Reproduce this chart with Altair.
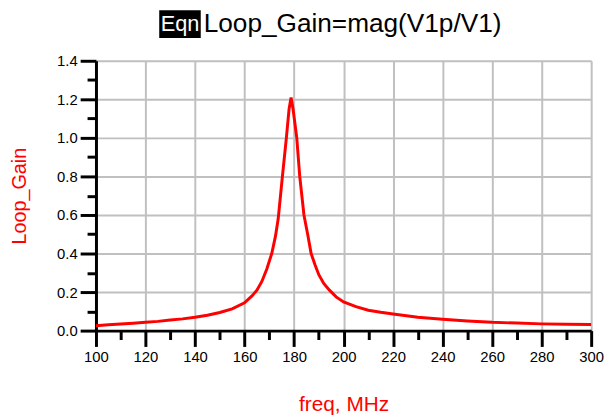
import altair as alt
import pandas as pd

# frequency (MHz) and Loop_Gain
freq = [100, 105, 110, 115, 120, 125, 130, 135, 140, 145, 150, 155, 160, 163, 165,
        167, 169, 171, 172.5, 173.6, 175.3, 176.9, 178.0, 178.8, 179.6, 181.1, 182.3,
        184.0, 185.5, 186.9, 188.5, 190, 192, 194.3, 197, 200, 205, 210, 215, 220,
        230, 240, 250, 260, 270, 280, 290, 300]
gain = [0.025, 0.030, 0.034, 0.038, 0.043, 0.048, 0.055, 0.061, 0.069, 0.080, 0.094,
        0.113, 0.144, 0.180, 0.210, 0.255, 0.320, 0.400, 0.490, 0.580, 0.800, 1.000,
        1.150, 1.210, 1.150, 1.000, 0.800, 0.600, 0.500, 0.400, 0.340, 0.290, 0.245,
        0.210, 0.175, 0.149, 0.124, 0.106, 0.095, 0.086, 0.069, 0.059, 0.050, 0.043,
        0.039, 0.035, 0.033, 0.032]

x_ticks = list(range(100, 301, 10))
y_ticks = [round(i * 0.1, 1) for i in range(0, 15)]

df = pd.DataFrame({"freq": freq, "gain": gain})
FONT = "Liberation Sans"

x_axis = alt.Axis(
    values=x_ticks,
    labelExpr="datum.value % 20 == 0 ? datum.label : ''",
    tickSize={"condition": {"test": "datum.value % 20 == 0", "value": 16}, "value": 9},
    tickWidth=3, tickColor="black",
    domainColor="black", domainWidth=3,
    grid=True, gridColor="#c0c0c0", gridWidth=2,
    gridOpacity={"condition": {"test": "datum.value % 20 == 0", "value": 1}, "value": 0},
    labelFont=FONT, labelFontSize=15, labelColor="black", labelPadding=3,
    title="freq, MHz", titleFont=FONT, titleFontSize=21, titleFontWeight="normal",
    titleColor="red", titlePadding=30, labelFlush=False, labelOverlap=False,
)
y_axis = alt.Axis(
    values=y_ticks,
    format=".1f",
    labelExpr="round(datum.value*10) % 2 == 0 ? datum.label : ''",
    tickSize={"condition": {"test": "round(datum.value*10) % 2 == 0", "value": 16}, "value": 9},
    tickWidth=3, tickColor="black",
    domainColor="black", domainWidth=3,
    grid=True, gridColor="#c0c0c0", gridWidth=2,
    gridOpacity={"condition": {"test": "round(datum.value*10) % 2 == 0", "value": 1}, "value": 0},
    labelFont=FONT, labelFontSize=15, labelColor="black", labelPadding=3,
    title="Loop_Gain", titleFont=FONT, titleFontSize=20, titleFontWeight="normal",
    titleColor="red", titlePadding=27, labelFlush=False, labelOverlap=False,
)

line = alt.Chart(df).mark_line(color="red", strokeWidth=3, interpolate="linear").encode(
    x=alt.X("freq:Q", scale=alt.Scale(domain=[100, 300], nice=False, zero=False), axis=x_axis),
    y=alt.Y("gain:Q", scale=alt.Scale(domain=[0, 1.4], nice=False), axis=y_axis),
)

tdf = pd.DataFrame({"eqn": ["Eqn"], "txt": ["Loop_Gain=mag(V1p/V1)"]})
box = alt.Chart(tdf).mark_rect(color="black").encode(
    x=alt.value(64), x2=alt.value(106), y=alt.value(-51), y2=alt.value(-23)
)
eqn = alt.Chart(tdf).mark_text(color="white", font=FONT, fontSize=22, align="center",
                               baseline="middle").encode(
    x=alt.value(85), y=alt.value(-37), text="eqn:N"
)
ttl = alt.Chart(tdf).mark_text(color="black", font=FONT, fontSize=26.5, align="left",
                               baseline="middle").encode(
    x=alt.value(109), y=alt.value(-37), text="txt:N"
)

chart = alt.layer(line, box, eqn, ttl).properties(
    width=501, height=273,
    autosize=alt.AutoSizeParams(type="none"),
    padding={"left": 89, "top": 51, "right": 14, "bottom": 85},
).configure_view(stroke="black", strokeWidth=3).configure(background="white")

chart.save("out.html", embed_options={"renderer": "svg", "actions": False})
